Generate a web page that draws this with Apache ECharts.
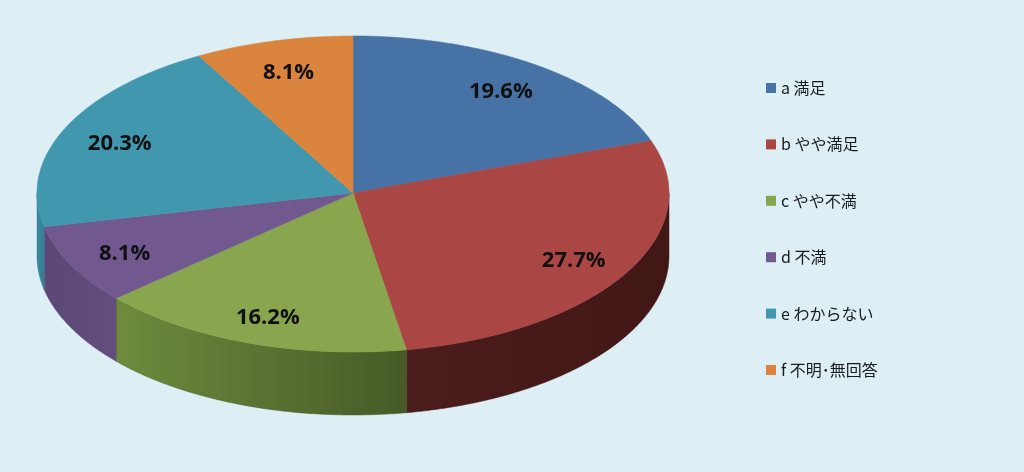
<!DOCTYPE html>
<html>
<head>
<meta charset="utf-8">
<script src="https://cdn.jsdelivr.net/npm/echarts@6/dist/echarts.min.js"></script>
<style>
html,body{margin:0;padding:0;background:#ddeef5;}
#c{width:1024px;height:472px;}
</style>
</head>
<body>
<div id="c"></div>
<script>
// ---- data ----
const categories = ['a 満足', 'b やや満足', 'c やや不満', 'd 不満', 'e わからない', 'f 不明･無回答'];
const values = [19.6, 27.7, 16.2, 8.1, 20.3, 8.1];

// ---- style ----
const topColors = ['#4672a6', '#aa4644', '#89a54e', '#71588f', '#4198ae', '#db843d'];
const sideColors = [
  ['#2d4a6d', '#2a4566'],
  ['#4b1d1c', '#411716'],
  ['#6e8b3d', '#475a27'],
  ['#5c4876', '#624d7c'],
  ['#3a8aa0', '#357e92'],
  ['#a8622c', '#9a5a28']
];
const CX = 353, CY = 193, RX = 316, RY_BACK = 157, RY_FRONT = 159, DEPTH = 63;

const total = values.reduce((s, v) => s + v, 0);
const starts = [];
let acc = 0;
values.forEach(v => { starts.push(acc); acc += v; });

function pt(t, dy) {
  const c = Math.cos(t);
  const ry = c >= 0 ? RY_BACK : RY_FRONT;
  return [CX + RX * Math.sin(t), CY - ry * c + (dy || 0)];
}

function renderSlice(params, api) {
  const idx = params.seriesIndex;
  const s = api.value(0), e = api.value(1), v = api.value(2);
  const t0 = s / total * 2 * Math.PI, t1 = e / total * 2 * Math.PI;
  const children = [];
  // side wall (front half only)
  const a0 = Math.max(t0, Math.PI / 2), a1 = Math.min(t1, 3 * Math.PI / 2);
  if (a1 > a0) {
    const n = Math.max(2, Math.ceil((a1 - a0) / 0.01));
    const up = [], down = [];
    for (let i = 0; i <= n; i++) {
      const t = a0 + (a1 - a0) * i / n;
      up.push(pt(t));
      down.push(pt(t, DEPTH));
    }
    const pts = up.concat(down.reverse());
    const sc = sideColors[idx];
    children.push({
      type: 'polygon',
      shape: { points: pts },
      style: {
        fill: new echarts.graphic.LinearGradient(0, 0, 1, 0, [
          { offset: 0, color: sc[0] }, { offset: 1, color: sc[1] }
        ]),
        stroke: sc[1], lineWidth: 0.5
      }
    });
  }
  // top face
  const n2 = Math.max(2, Math.ceil((t1 - t0) / 0.01));
  const top = [[CX, CY]];
  for (let i = 0; i <= n2; i++) top.push(pt(t0 + (t1 - t0) * i / n2));
  children.push({
    type: 'polygon',
    shape: { points: top },
    style: { fill: topColors[idx], stroke: topColors[idx], lineWidth: 0.6 }
  });
  // label
  const mid = (t0 + t1) / 2;
  const r = 0.81;
  const c = Math.cos(mid);
  const ry = c >= 0 ? RY_BACK : RY_FRONT;
  children.push({
    type: 'text',
    x: CX + RX * r * Math.sin(mid),
    y: CY - ry * r * c + 3,
    z2: 10,
    style: {
      text: v.toFixed(1) + '%',
      fill: '#111',
      font: 'bold 22px "Open Sans", "Liberation Sans", sans-serif',
      align: 'center',
      verticalAlign: 'middle'
    }
  });
  return { type: 'group', children: children };
}

const series = categories.map((name, i) => ({
  type: 'custom',
  name: name,
  coordinateSystem: 'none',
  itemStyle: { color: topColors[i] },
  data: [[starts[i], starts[i] + values[i], values[i]]],
  renderItem: renderSlice,
  silent: true,
  animation: false
}));

const chart = echarts.init(document.getElementById('c'), null, { renderer: 'canvas' });
chart.setOption({
  backgroundColor: '#ddeef5',
  animation: false,
  legend: {
    orient: 'vertical',
    left: 761,
    top: 75,
    padding: 5,
    itemWidth: 10,
    itemHeight: 10,
    itemGap: 40.4,
    icon: 'rect',
    data: categories,
    selectedMode: false,
    textStyle: {
      fontSize: 16,
      lineHeight: 16,
      color: '#1a1a1a',
      fontFamily: '"Noto Sans CJK JP", sans-serif'
    }
  },
  series: series
});
</script>
</body>
</html>
